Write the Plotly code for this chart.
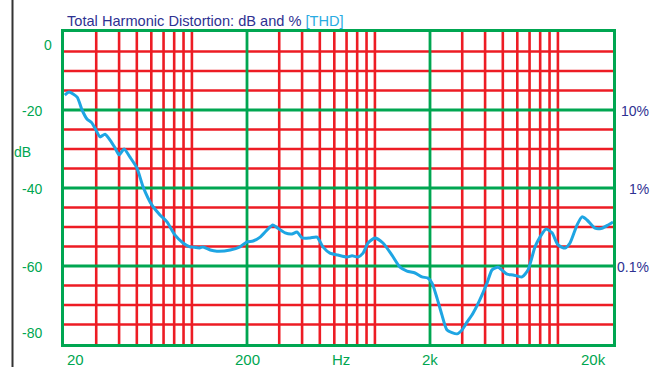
import numpy as np
import plotly.graph_objects as go

# THD curve (Hz, dB)
freq = [20.2, 21.3, 23.6, 25.1, 26.7, 28.4, 29.5, 31.5, 33.5, 35.7, 38.0, 40.0, 42.6,
        45.9, 50.1, 54.1, 60.5, 66.9, 73.1, 80.9, 89.4, 97.6, 100, 110, 115, 126, 137,
        162, 183, 200, 216, 236, 257, 277, 295, 323, 352, 375, 400, 442, 483, 520,
        568, 628, 704, 750, 809, 861, 917, 1001, 1107, 1239, 1371, 1497, 1656, 1808,
        1950, 2052, 2184, 2326, 2478, 2810, 2992, 3186, 3436, 3700, 4098, 4366, 4710,
        5274, 5688, 6370, 6864, 7496, 7980, 8610, 9290, 10012, 10938, 11643, 12716,
        13543, 14422, 15948, 17418, 18782, 20000]
thd_db = [-16.2, -15.4, -16.7, -20.0, -22.3, -23.3, -24.6, -26.9, -26.2, -27.7, -29.7,
          -31.5, -30.0, -32.1, -34.9, -39.7, -44.4, -46.9, -48.7, -52.1, -54.1, -55.1,
          -55.1, -55.4, -55.1, -55.9, -56.2, -55.9, -55.1, -53.8, -53.6, -52.6, -50.8,
          -49.5, -50.3, -51.5, -51.8, -51.3, -52.8, -52.8, -52.6, -55.1, -56.7, -57.2,
          -57.7, -57.4, -57.7, -56.7, -54.1, -52.8, -54.1, -57.2, -60.3, -61.3, -61.8,
          -62.8, -63.1, -64.4, -68.2, -72.6, -76.4, -77.4, -76.4, -74.4, -72.1, -69.2,
          -64.4, -61.0, -60.3, -62.1, -62.3, -62.8, -61.0, -55.1, -52.6, -50.5, -51.5,
          -54.6, -55.4, -54.1, -49.5, -47.4, -48.2, -50.3, -50.3, -49.5, -48.7]

# grid
red_x = [30, 40, 50, 60, 70, 80, 90, 100, 300, 400, 500, 600, 700, 800, 900, 1000,
         3000, 4000, 5000, 6000, 7000, 8000, 9000, 10000]
green_x = [200, 2000]
red_y = [-5, -10, -15, -25, -30, -35, -45, -50, -55, -65, -70, -75]
green_y = [-20, -40, -60]

# labels
x_tick_vals = [200, 2000]
x_tick_text = ["200", "2k"]
y_tick_vals = [-20, -40, -60]
y_tick_text = ["-20", "-40", "-60"]
pct_vals = [-20, -40, -60]
pct_text = ["10%", "1%", "0.1%"]

GREEN = "#00a651"
RED = "#ed1c24"
NAVY = "#2e3192"
BLUE = "#1ea5e3"
FONT = "Liberation Sans, Arial"

fig = go.Figure()
fig.add_trace(go.Scatter(x=freq, y=thd_db, mode="lines",
                         line=dict(color=BLUE, width=3, shape="spline", smoothing=0.6),
                         hoverinfo="skip"))

shapes = []
for f in red_x:
    shapes.append(dict(type="line", xref="x", yref="paper", x0=f, x1=f,
                       y0=0, y1=1, line=dict(color=RED, width=2.6), layer="below"))
for v in red_y:
    shapes.append(dict(type="line", xref="paper", yref="y", x0=0, x1=1, y0=v, y1=v,
                       line=dict(color=RED, width=2.6), layer="below"))
for f in green_x:
    shapes.append(dict(type="line", xref="x", yref="paper", x0=f, x1=f,
                       y0=0, y1=1, line=dict(color=GREEN, width=2.8), layer="below"))
for v in green_y:
    shapes.append(dict(type="line", xref="paper", yref="y", x0=0, x1=1, y0=v, y1=v,
                       line=dict(color=GREEN, width=2.8), layer="below"))
# dark rule at far left
shapes.append(dict(type="line", xref="paper", yref="paper", x0=-0.0938, x1=-0.0938,
                   y0=-0.08, y1=1.11, line=dict(color="#333333", width=2)))

ann = []
lab = dict(family=FONT, size=15, color=GREEN)
for v, t in zip(x_tick_vals, x_tick_text):
    ann.append(dict(x=np.log10(v), y=0, xref="x", yref="paper", text=t, showarrow=False,
                    xanchor="center", yanchor="middle", yshift=-15, font=lab))
ann.append(dict(x=np.log10(20), y=0, xref="x", yref="paper", text="20", showarrow=False,
                xanchor="left", yanchor="middle", xshift=1, yshift=-15, font=lab))
ann.append(dict(x=np.log10(20000), y=0, xref="x", yref="paper", text="20k", showarrow=False,
                xanchor="right", yanchor="middle", xshift=-5, yshift=-15, font=lab))
ann.append(dict(x=0.5046, y=0, xref="paper", yref="paper", text="Hz", showarrow=False,
                xanchor="center", yanchor="middle", yshift=-15, font=lab))

ylab = dict(family=FONT, size=14, color=GREEN)
for v, t in zip(y_tick_vals, y_tick_text):
    ann.append(dict(x=0, y=v, xref="paper", yref="y", text=t, showarrow=False,
                    xanchor="right", yanchor="middle", xshift=-20, yshift=-1, font=ylab))
ann.append(dict(x=0, y=0, xref="paper", yref="y", text="0", showarrow=False,
                xanchor="center", yanchor="middle", xshift=-16, yshift=-13, font=ylab))
ann.append(dict(x=0, y=-80, xref="paper", yref="y", text="-80", showarrow=False,
                xanchor="right", yanchor="middle", xshift=-20, yshift=11, font=ylab))
ann.append(dict(x=0, y=0.615, xref="paper", yref="paper", text="dB", showarrow=False,
                xanchor="left", yanchor="middle", xshift=-52, font=ylab))

plab = dict(family=FONT, size=14, color=NAVY)
for v, t in zip(pct_vals, pct_text):
    ann.append(dict(x=1, y=v, xref="paper", yref="y", text=t, showarrow=False,
                    xanchor="right", yanchor="middle", xshift=38, yshift=-1, font=plab))

ann.append(dict(x=0, y=1, xref="paper", yref="paper", showarrow=False,
                text="Total Harmonic Distortion: dB and % <span style='color:#29abe2'>[THD]</span>",
                xanchor="left", yanchor="middle", xshift=1, yshift=11,
                font=dict(family=FONT, size=14.6, color=NAVY)))

fig.update_layout(
    width=655, height=367,
    margin=dict(l=64, r=42, t=32, b=23),
    paper_bgcolor="white", plot_bgcolor="white",
    showlegend=False,
    shapes=shapes, annotations=ann,
    xaxis=dict(type="log", range=[np.log10(20), np.log10(20000)], showgrid=False,
               showticklabels=False, ticks="", zeroline=False,
               showline=True, mirror=True, linecolor=GREEN, linewidth=3),
    yaxis=dict(range=[-80, 0], showgrid=False, showticklabels=False, ticks="",
               zeroline=False, showline=True, mirror=True, linecolor=GREEN, linewidth=3),
)

fig.write_html("out.html", config={"displayModeBar": False},
               post_script="document.body.style.margin='0';")
